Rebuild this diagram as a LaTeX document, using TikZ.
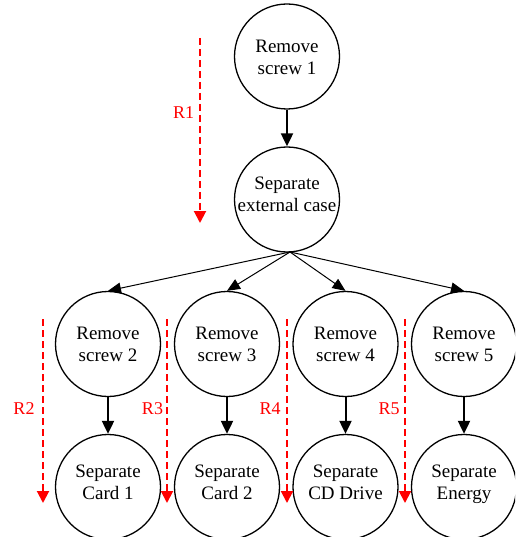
\documentclass[tikz,border=0pt]{standalone}
\usepackage{fontspec}
\setmainfont{Liberation Serif}
\usetikzlibrary{arrows.meta}
\definecolor{rred}{RGB}{255,0,0}
\tikzset{
  steptext/.style={align=center,inner sep=0pt,text depth=0pt,
    font=\fontsize{19}{22}\selectfont},
  stepnode/.style 2 args={circle,draw,line width=1.3pt,minimum size=105pt,inner sep=0pt,
    label={[steptext,yshift=#2]center:{#1}}},
  thickarrow/.style={line width=2pt,-{Triangle[width=12pt,length=13pt]}},
  thinarrow/.style={line width=1pt,-{Triangle[width=11pt,length=13pt]}},
  routearrow/.style={rred,line width=2pt,dash pattern=on 7pt off 4pt,-{Triangle[width=12pt,length=12pt]}},
  routelabel/.style={text=rred,font=\fontsize{18}{20}\selectfont,inner sep=0pt}
}
\begin{document}
\begin{tikzpicture}[x=1pt,y=-1pt]
\useasboundingbox (0,0) rectangle (515,537);
\begin{scope}
\clip (0,0) rectangle (515,537);
\node[stepnode={Remove\\screw 1}{-1pt}] (rs1) at (287,56.5) {};
\node[stepnode={Separate\\external case}{5pt}] (ext) at (287,199.5) {};
\node[stepnode={Remove\\screw 2}{0pt}] (rs2) at (108,344) {};
\node[stepnode={Remove\\screw 3}{0pt}] (rs3) at (227,344) {};
\node[stepnode={Remove\\screw 4}{0pt}] (rs4) at (345.5,344) {};
\node[stepnode={Remove\\screw 5}{0pt}] (rs5) at (464,344) {};
\node[stepnode={Separate\\Card 1}{4.5pt}] (sp2) at (108,487) {};
\node[stepnode={Separate\\Card 2}{4.5pt}] (sp3) at (227,487) {};
\node[stepnode={Separate\\CD Drive}{4.5pt}] (sp4) at (345.5,487) {};
\node[stepnode={Separate\\Energy}{4.5pt}] (sp5) at (464,487) {};

\draw[thickarrow] (rs1.south) -- (ext.north);
\draw[thickarrow] (rs2.south) -- (sp2.north);
\draw[thickarrow] (rs3.south) -- (sp3.north);
\draw[thickarrow] (rs4.south) -- (sp4.north);
\draw[thickarrow] (rs5.south) -- (sp5.north);

\coordinate (hub) at (290,252);
\draw[thinarrow] (hub) -- (rs2.north);
\draw[thinarrow] (hub) -- (rs3.north);
\draw[thinarrow] (hub) -- (rs4.north);
\draw[thinarrow] (hub) -- (rs5.north);

\coordinate (r1s) at (200,38);  \coordinate (r1e) at (200,223);
\coordinate (r2s) at (43,319);  \coordinate (r2e) at (43,503);
\coordinate (r3s) at (167,319); \coordinate (r3e) at (167,503);
\coordinate (r4s) at (287,319); \coordinate (r4e) at (287,503);
\coordinate (r5s) at (405,319); \coordinate (r5e) at (405,503);
\draw[routearrow] (r1s) -- (r1e);
\draw[routearrow] (r2s) -- (r2e);
\draw[routearrow] (r3s) -- (r3e);
\draw[routearrow] (r4s) -- (r4e);
\draw[routearrow] (r5s) -- (r5e);

\node[routelabel] (l1) at (183.5,113) {R1};
\node[routelabel] (l2) at (24,409) {R2};
\node[routelabel] (l3) at (152.5,409) {R3};
\node[routelabel] (l4) at (270,409) {R4};
\node[routelabel] (l5) at (389,409) {R5};
\end{scope}
\end{tikzpicture}
\end{document}
